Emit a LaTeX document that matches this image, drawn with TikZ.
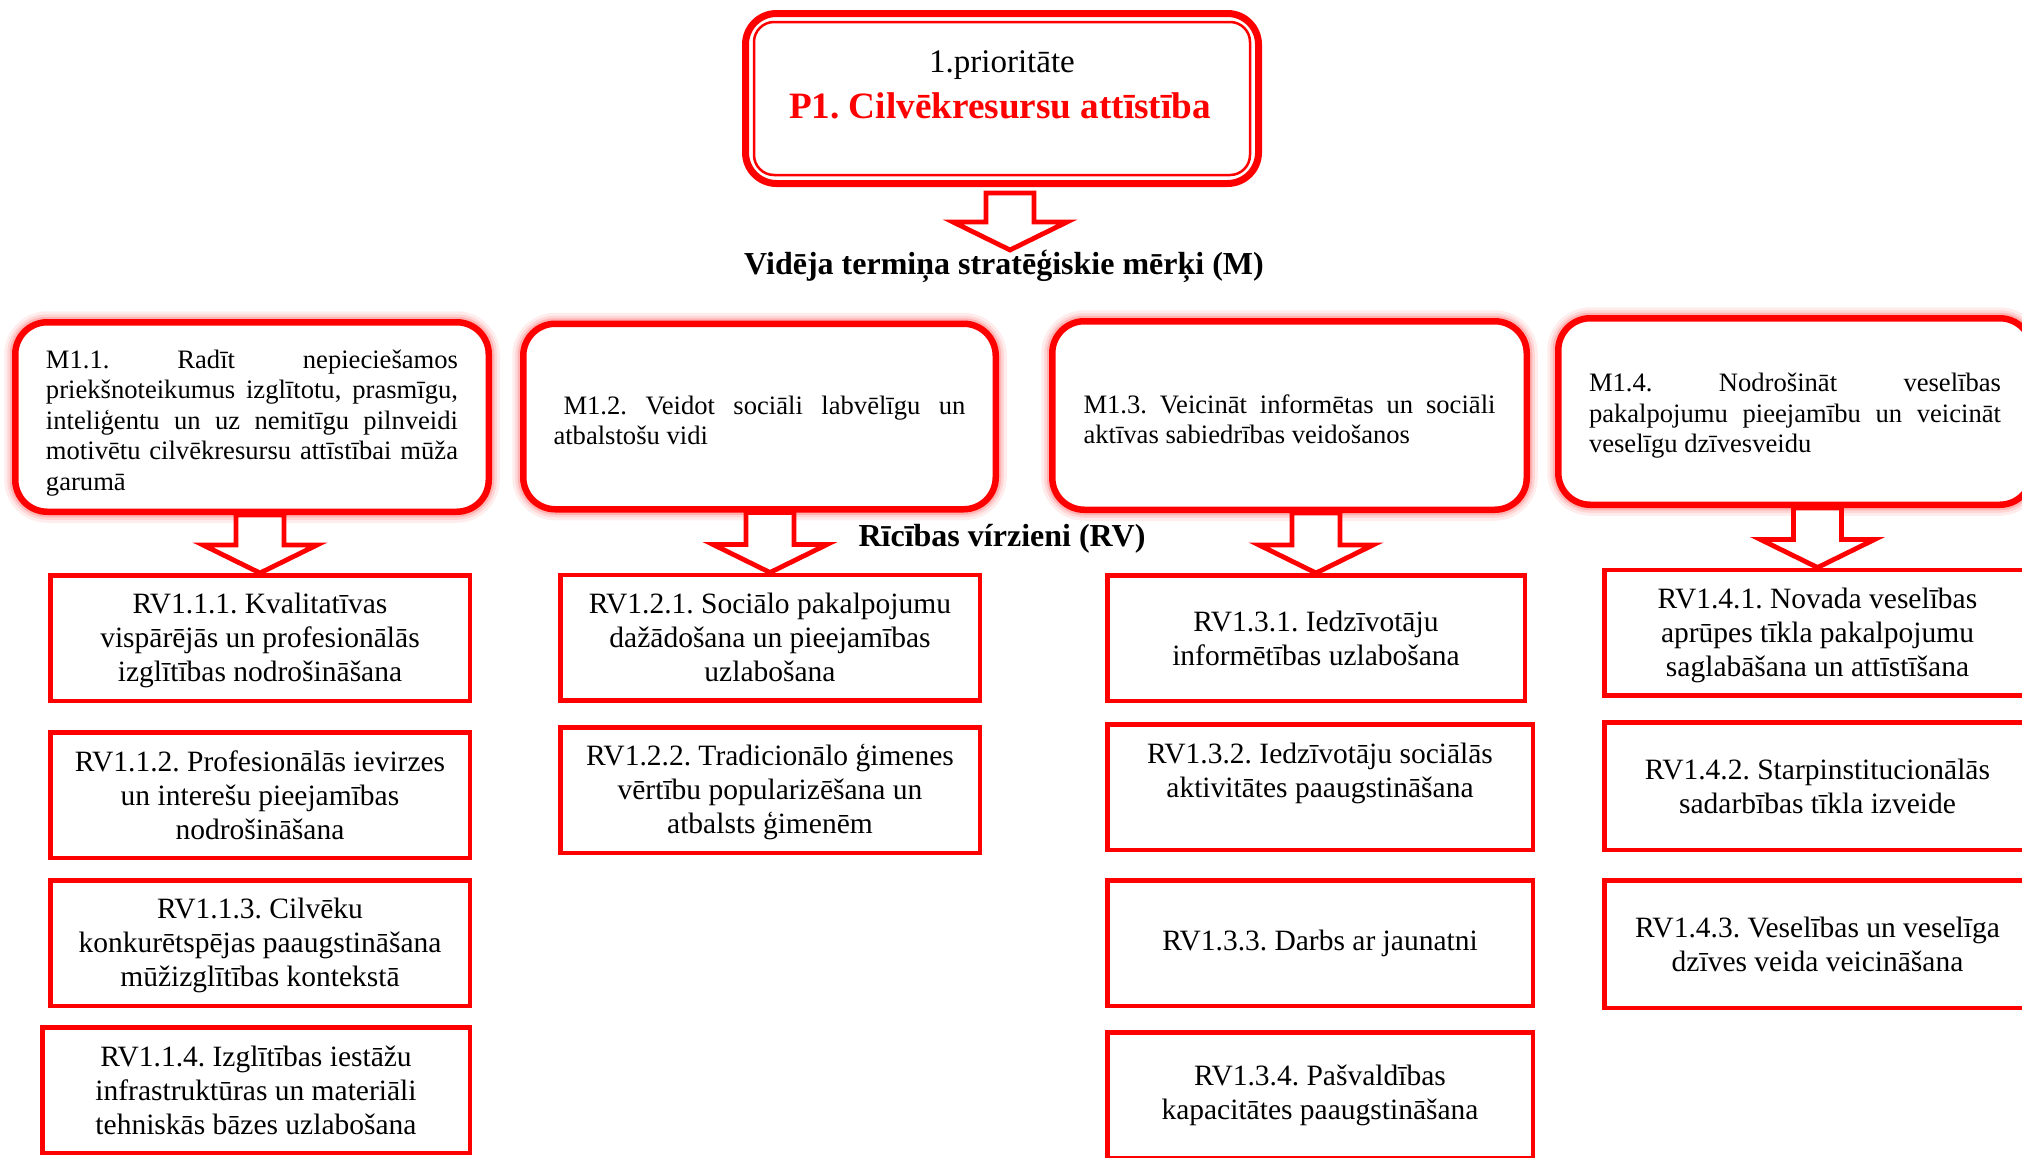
\documentclass[tikz,border=0pt]{standalone}
\usepackage{fontspec}
\setmainfont{Liberation Serif}
\frenchspacing
\usetikzlibrary{calc}
\tikzset{
  rvbox/.style={draw=red, line width=2.25pt, fill=white, align=center, inner sep=0pt,
    minimum width=209.75pt, minimum height=62.75pt, font=\fontsize{14.75}{17}\selectfont\frenchspacing},
  mbox/.style={draw=red, line width=3.25pt, rounded corners=16pt, fill=white, align=left, inner sep=0pt,
    minimum width=236.75pt, minimum height=92.75pt, font=\fontsize{13.3}{15.25}\selectfont\frenchspacing,
    preaction={draw=red, draw opacity=0.07, line width=11pt},
    preaction={draw=red, draw opacity=0.10, line width=8pt},
    preaction={draw=red, draw opacity=0.16, line width=5.5pt}},
  pbox/.style={draw=red, line width=3.5pt, rounded corners=15.5pt, fill=white,
    minimum width=256.5pt, minimum height=85pt, inner sep=0pt},
  headline/.style={font=\fontsize{16}{19}\selectfont\bfseries, inner sep=0pt},
  blockarrow/.style={draw=red, line width=2.4pt, fill=white, line join=miter},
}
\newcommand\jl[1]{\makebox[206pt][s]{#1}}
\newcommand\tg[1]{\rule{0pt}{#1}}
\newcommand\barrow[3][0]{%
  \coordinate (bt) at (#3);
  \coordinate (bs) at ($(#2.south -| bt)+(0,#1)$);
  \draw[blockarrow] ($(bs)+(-24,0)$) -- ($(bs)+(24,0)$) -- ($(bt)+(24,-28)$) -- ($(bt)+(57,-28)$)
    -- (bt) -- ($(bt)+(-57,-28)$) -- ($(bt)+(-24,-28)$) -- cycle;}
\begin{document}
\begin{tikzpicture}[x=0.5pt,y=-0.5pt]
\useasboundingbox (0,0) rectangle (2022,1157);
\clip (0,0) rectangle (2022,1157);

% priority box
\node[pbox] (p1) at (1002,98.5) {};
\draw[red, line width=1.25pt, rounded corners=10pt]
  ([shift={(12,12)}]p1.north west) rectangle ([shift={(-12,-12)}]p1.south east);
\node[font=\fontsize{16.5}{20}\selectfont, inner sep=0pt] (p1a) at (1002,65) {1.prioritāte};
\node[font=\fontsize{18.6}{22}\selectfont\bfseries\frenchspacing, text=red, inner sep=0pt] (p1b) at (1000,106)
  {P1. Cilvēkresursu attīstība};

\node[headline, anchor=north] (vid) at (1004,250) {Vidēja termiņa stratēģiskie mērķi (M)};

% medium-term goals
\node[mbox, minimum height=94.75pt] (m11) at (252,417) {%
  \jl{\tg{15pt}M1.1. Radīt nepieciešamos}\\
  \jl{priekšnoteikumus izglītotu, prasmīgu,}\\
  \jl{inteliģentu un uz nemitīgu pilnveidi}\\
  \jl{motivētu cilvēkresursu attīstībai mūža}\\
  garumā};
\node[mbox, minimum width=236.25pt] (m12) at (759.5,416.5) {%
  \jl{\tg{13pt}\hspace{5pt}M1.2. Veidot sociāli labvēlīgu un}\\
  atbalstošu vidi};
\node[mbox, minimum width=237.25pt, minimum height=94.25pt] (m13) at (1289.5,415.5) {%
  \jl{\tg{13pt}M1.3. Veicināt informētas un sociāli}\\
  aktīvas sabiedrības veidošanos};
\node[mbox, minimum height=93.25pt] (m14) at (1795,411.5) {%
  \jl{\tg{13.5pt}M1.4. Nodrošināt veselības}\\
  \jl{pakalpojumu pieejamību un veicināt}\\
  veselīgu dzīvesveidu};

\node[headline] (rvl) at (1002,539) {Rīcības vírzieni (RV)};

% action lines, column 1
\node[rvbox] (r111) at (260,638) {\tg{13pt}RV1.1.1. Kvalitatīvas\\vispārējās un profesionālās\\izglītības nodrošināšana};
\node[rvbox] (r112) at (260,795) {RV1.1.2. Profesionālās ievirzes\\un interešu pieejamības\\nodrošināšana};
\node[rvbox] (r113) at (260,943) {\tg{13pt}RV1.1.3. Cilvēku\\konkurētspējas paaugstināšana\\mūžizglītības kontekstā};
\node[rvbox, minimum width=213.75pt] (r114) at (256,1090) {RV1.1.4. Izglītības iestāžu\\infrastruktūras un materiāli\\tehniskās bāzes uzlabošana};
% column 2
\node[rvbox] (r121) at (770,637.5) {RV1.2.1. Sociālo pakalpojumu\\dažādošana un pieejamības\\uzlabošana};
\node[rvbox] (r122) at (770,790) {\tg{13pt}RV1.2.2. Tradicionālo ģimenes\\vērtību popularizēšana un\\atbalsts ģimenēm};
% column 3
\node[rvbox, minimum width=208.75pt] (r131) at (1316,638) {RV1.3.1. Iedzīvotāju\\informētības uzlabošana};
\node[rvbox, minimum width=212.75pt] (r132) at (1320,787) {RV1.3.2. Iedzīvotāju sociālās\\aktivitātes paaugstināšana\\\mbox{}};
\node[rvbox, minimum width=212.75pt] (r133) at (1320,943) {RV1.3.3. Darbs ar jaunatni};
\node[rvbox, minimum width=212.75pt] (r134) at (1320,1095) {RV1.3.4. Pašvaldības\\kapacitātes paaugstināšana};
% column 4
\node[rvbox, minimum width=213.25pt] (r141) at (1817.5,632.5) {\tg{13pt}RV1.4.1. Novada veselības\\aprūpes tīkla pakalpojumu\\saglabāšana un attīstīšana};
\node[rvbox, minimum width=213.25pt, minimum height=63.75pt] (r142) at (1817.5,786) {RV1.4.2. Starpinstitucionālās\\sadarbības tīkla izveide};
\node[rvbox, minimum width=213.25pt, minimum height=63.75pt] (r143) at (1817.5,944) {RV1.4.3. Veselības un veselīga\\dzīves veida veicināšana};

% block arrows
\barrow[6]{p1}{[xshift=3pt]vid.north}
\barrow{m11}{r111.north}
\barrow{m12}{r121.north}
\barrow{m13}{r131.north}
\barrow{m14}{r141.north}
\end{tikzpicture}
\end{document}
